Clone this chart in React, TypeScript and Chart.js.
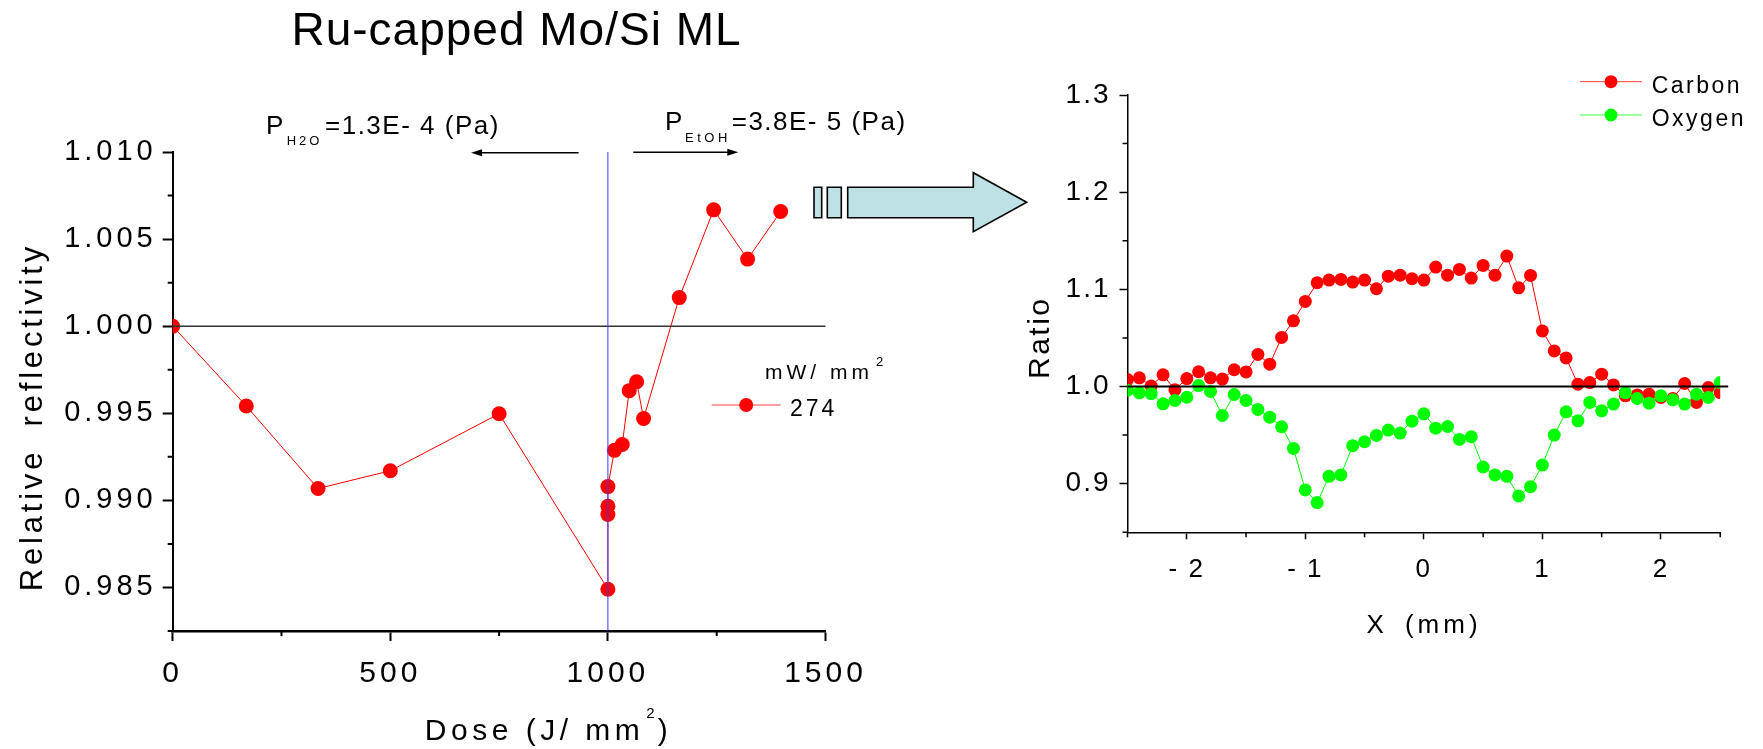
import React, { useEffect, useRef } from 'react';
import { Chart, registerables } from 'chart.js';

Chart.register(...registerables);

const FONT = "'Liberation Sans', Arial, Helvetica, sans-serif";

// ---------- Left panel: relative reflectivity vs dose ----------
const doseJmm2 = [0, 169, 334, 500, 750, 1000, 1000, 1000, 1000, 1015, 1033, 1049, 1066, 1082, 1164, 1243, 1321, 1397];
const relativeReflectivity = [1.0, 0.99542, 0.99068, 0.9917, 0.99497, 0.9849, 0.98919, 0.98966, 0.99079, 0.99287, 0.99321, 0.9963, 0.99681, 0.9947, 1.00164, 1.00668, 1.00385, 1.00658];
const doseTickValues = [0, 500, 1000, 1500];
const doseTickLabels = ['0', '500', '1000', '1500'];
const doseMinorTicks = [250, 750, 1250];
const reflTickValues = [0.985, 0.99, 0.995, 1.0, 1.005, 1.01];
const reflTickLabels = ['0.985', '0.990', '0.995', '1.000', '1.005', '1.010'];
const reflMinorTicks = [0.9825, 0.9875, 0.9925, 0.9975, 1.0025, 1.0075];
const switchDose = 1000;
const referenceLevel = 1.0;
const powerSeriesLabel = '274';

// ---------- Right panel: ratio vs position ----------
const positionMm = [-2.5, -2.4, -2.3, -2.2, -2.1, -2.0, -1.9, -1.8, -1.7, -1.6, -1.5, -1.4, -1.3, -1.2, -1.1, -1.0, -0.9, -0.8, -0.7, -0.6, -0.5, -0.4, -0.3, -0.2, -0.1, 0.0, 0.1, 0.2, 0.3, 0.4, 0.5, 0.6, 0.7, 0.8, 0.9, 1.0, 1.1, 1.2, 1.3, 1.4, 1.5, 1.6, 1.7, 1.8, 1.9, 2.0, 2.1, 2.2, 2.3, 2.4, 2.5];
const carbonRatio = [1.0072, 1.009, 1.0005, 1.012, 0.9968, 1.0082, 1.0152, 1.009, 1.0077, 1.0173, 1.015, 1.033, 1.023, 1.0505, 1.0676, 1.0876, 1.1068, 1.1095, 1.1102, 1.1075, 1.1095, 1.1006, 1.1136, 1.1146, 1.1109, 1.1095, 1.1229, 1.1146, 1.1205, 1.1116, 1.1246, 1.1146, 1.1342, 1.1016, 1.1143, 1.0572, 1.0366, 1.0294, 1.0024, 1.0041, 1.0127, 1.0017, 0.9904, 0.9914, 0.9921, 0.9887, 0.9877, 1.0031, 0.9836, 0.999, 0.9938];
const oxygenRatio = [0.9962, 0.9935, 0.9928, 0.9822, 0.9856, 0.989, 1.001, 0.9949, 0.9702, 0.9918, 0.9856, 0.9764, 0.9685, 0.9586, 0.9363, 0.8936, 0.8806, 0.9076, 0.909, 0.9391, 0.9432, 0.9497, 0.9552, 0.9521, 0.9644, 0.9719, 0.9572, 0.9589, 0.9456, 0.9483, 0.9172, 0.909, 0.9076, 0.8874, 0.897, 0.9192, 0.95, 0.974, 0.9647, 0.9836, 0.975, 0.9819, 0.9938, 0.9877, 0.9829, 0.9904, 0.9863, 0.9819, 0.9921, 0.9887, 1.0041];
const xMmTickValues = [-2, -1, 0, 1, 2];
const xMmTickLabels = ['- 2', '- 1', '0', '1', '2'];
const xMmMinorTicks = [-2.5, -1.5, -0.5, 0.5, 1.5, 2.5];
const ratioTickValues = [0.9, 1.0, 1.1, 1.2, 1.3];
const ratioTickLabels = ['0.9', '1.0', '1.1', '1.2', '1.3'];
const ratioMinorTicks = [0.85, 0.95, 1.05, 1.15, 1.25];

const RED = '#ff0000';
const GREEN = '#00ff00';

function spacedText(ctx: any, s: string, x: number, y: number, size: number, spacing = 0, align = 'left', wordSpacing = 0) {
  ctx.save();
  ctx.font = `${size}px ${FONT}`;
  ctx.letterSpacing = `${spacing}px`;
  ctx.wordSpacing = `${wordSpacing}px`;
  ctx.fillStyle = '#000';
  ctx.textBaseline = 'alphabetic';
  ctx.textAlign = 'left';
  const w = ctx.measureText(s).width - spacing;
  let sx = x;
  if (align === 'center') sx = x - w / 2;
  else if (align === 'right') sx = x - w;
  ctx.fillText(s, sx, y);
  ctx.restore();
  return w;
}

function rotatedText(ctx: any, s: string, x: number, y: number, size: number, spacing: number, wordSpacing = 0) {
  ctx.save();
  ctx.translate(x, y);
  ctx.rotate(-Math.PI / 2);
  spacedText(ctx, s, 0, 0, size, spacing, 'center', wordSpacing);
  ctx.restore();
}

function minorTicks(chart: any, axisId: string, values: number[], len: number, width: number) {
  const s = chart.scales[axisId];
  const a = chart.chartArea;
  const ctx = chart.ctx;
  ctx.save();
  ctx.strokeStyle = '#000';
  ctx.lineWidth = width;
  ctx.beginPath();
  for (const v of values) {
    const p = s.getPixelForValue(v);
    if (s.isHorizontal()) {
      ctx.moveTo(p, a.bottom);
      ctx.lineTo(p, a.bottom + len);
    } else {
      ctx.moveTo(a.left, p);
      ctx.lineTo(a.left - len, p);
    }
  }
  ctx.stroke();
  ctx.restore();
}

function arrowLine(ctx: any, x1: number, x2: number, y: number) {
  const dir = Math.sign(x2 - x1);
  ctx.save();
  ctx.strokeStyle = '#000';
  ctx.fillStyle = '#000';
  ctx.lineWidth = 1.6;
  ctx.beginPath();
  ctx.moveTo(x1, y);
  ctx.lineTo(x2 - dir * 8, y);
  ctx.stroke();
  ctx.beginPath();
  ctx.moveTo(x2, y);
  ctx.lineTo(x2 - dir * 11, y - 3.5);
  ctx.lineTo(x2 - dir * 11, y + 3.5);
  ctx.closePath();
  ctx.fill();
  ctx.restore();
}

function legendMarker(ctx: any, x1: number, x2: number, y: number, color: string, r: number) {
  ctx.save();
  ctx.strokeStyle = color;
  ctx.lineWidth = 1;
  ctx.globalAlpha = 0.75;
  ctx.beginPath();
  ctx.moveTo(x1, y);
  ctx.lineTo(x2, y);
  ctx.stroke();
  ctx.globalAlpha = 1;
  ctx.fillStyle = color;
  ctx.beginPath();
  ctx.arc((x1 + x2) / 2, y, r, 0, Math.PI * 2);
  ctx.fill();
  ctx.restore();
}

const leftDecor = {
  id: 'leftDecor',
  beforeDraw(chart: any) {
    chart.ctx.letterSpacing = '4px';
  },
  afterDatasetsDraw(chart: any) {
    const { ctx, chartArea: a, scales } = chart;
    const x = scales.x;
    const y = scales.y;
    ctx.save();
    ctx.strokeStyle = '#333';
    ctx.lineWidth = 1.5;
    const yr = y.getPixelForValue(referenceLevel);
    ctx.beginPath();
    ctx.moveTo(x.getPixelForValue(doseTickValues[0]), yr);
    ctx.lineTo(x.getPixelForValue(doseTickValues[doseTickValues.length - 1]), yr);
    ctx.stroke();
    const xb = x.getPixelForValue(switchDose);
    ctx.strokeStyle = '#3a3aff';
    ctx.lineWidth = 1;
    ctx.beginPath();
    ctx.moveTo(xb, a.top);
    ctx.lineTo(xb, a.bottom);
    ctx.stroke();
    ctx.restore();
  },
  afterDraw(chart: any) {
    const ctx = chart.ctx;
    ctx.letterSpacing = '0px';
    minorTicks(chart, 'x', doseMinorTicks, 5, 2);
    minorTicks(chart, 'y', reflMinorTicks, 5, 2);

    // Title
    spacedText(ctx, 'Ru-capped Mo/Si ML', 516, 45, 46, 1, 'center');

    // Pressure annotations
    spacedText(ctx, 'P', 266, 134.3, 26, 1.5);
    spacedText(ctx, 'H2O', 286.7, 145, 13, 3);
    spacedText(ctx, '=1.3E- 4 (Pa)', 325, 134.3, 26, 1.5);
    arrowLine(ctx, 578.6, 471, 152.7);

    spacedText(ctx, 'P', 665, 130, 26, 1.5);
    spacedText(ctx, 'EtOH', 685, 141.7, 13, 3.5);
    spacedText(ctx, '=3.8E- 5 (Pa)', 731.7, 130, 26, 1.5);
    arrowLine(ctx, 633.3, 738.3, 152.3);

    // Axis titles
    rotatedText(ctx, 'Relative reflectivity', 42, 419, 31, 3.8, 10);
    let cx = 424.8;
    cx += spacedText(ctx, 'Dose (J/ mm', cx, 740, 30, 4.5) + 4.5;
    cx += spacedText(ctx, '2', cx + 2, 718, 15, 0) + 5;
    spacedText(ctx, ')', cx, 740, 30, 0);

    // Legend
    spacedText(ctx, 'mW/ mm', 765, 379, 21, 4);
    spacedText(ctx, '2', 876, 366, 13, 0);
    legendMarker(ctx, 711.7, 780.7, 405, RED, 7);
    spacedText(ctx, chart.data.datasets[0].label, 790, 416, 23, 3);

    // Big arrow
    ctx.save();
    ctx.fillStyle = '#bde1e4';
    ctx.strokeStyle = '#000';
    ctx.lineWidth = 1.6;
    ctx.beginPath();
    ctx.rect(814, 187.3, 7.7, 30.4);
    ctx.rect(827.3, 187.3, 14, 30.4);
    ctx.fill();
    ctx.stroke();
    ctx.beginPath();
    ctx.moveTo(847.7, 187.3);
    ctx.lineTo(973.3, 187.3);
    ctx.lineTo(973.3, 172.7);
    ctx.lineTo(1026.7, 202.3);
    ctx.lineTo(973.3, 231.7);
    ctx.lineTo(973.3, 217.7);
    ctx.lineTo(847.7, 217.7);
    ctx.closePath();
    ctx.fill();
    ctx.stroke();
    ctx.restore();
  },
};

const rightDecor = {
  id: 'rightDecor',
  beforeDraw(chart: any) {
    chart.ctx.letterSpacing = '2px';
  },
  afterDatasetsDraw(chart: any) {
    const { ctx, chartArea: a, scales } = chart;
    const yr = scales.y.getPixelForValue(referenceLevel);
    ctx.save();
    ctx.strokeStyle = '#000';
    ctx.lineWidth = 2;
    ctx.beginPath();
    ctx.moveTo(a.left, yr);
    ctx.lineTo(a.right + 8, yr);
    ctx.stroke();
    ctx.restore();
  },
  afterDraw(chart: any) {
    const ctx = chart.ctx;
    ctx.letterSpacing = '0px';
    minorTicks(chart, 'x', xMmMinorTicks, 5, 1.5);
    minorTicks(chart, 'y', ratioMinorTicks, 5, 1.5);
    rotatedText(ctx, 'Ratio', 48.7, 339, 30, 2.5);
    spacedText(ctx, 'X (mm)', 422, 633.3, 26, 4, 'center', 6);
    const ds = chart.data.datasets;
    legendMarker(ctx, 580, 642, 81.7, RED, 6.5);
    spacedText(ctx, ds[1].label, 651.7, 92.7, 23, 2.5);
    legendMarker(ctx, 580, 642, 115, GREEN, 6.5);
    spacedText(ctx, ds[0].label, 651.7, 125.7, 23, 2.5);
  },
};

function leftConfig(): any {
  return {
    type: 'scatter',
    data: {
      datasets: [
        {
          label: powerSeriesLabel,
          data: doseJmm2.map((d, i) => ({ x: d, y: relativeReflectivity[i] })),
          showLine: true,
          borderColor: RED,
          borderWidth: 1,
          backgroundColor: RED,
          pointBackgroundColor: RED,
          pointBorderWidth: 0,
          pointRadius: 7.5,
          clip: 0,
        },
      ],
    },
    options: {
      animation: false,
      responsive: false,
      devicePixelRatio: 1,
      layout: { padding: { left: 0, top: 152, right: 1040 - 825.5, bottom: 0 } },
      plugins: { legend: { display: false }, tooltip: { enabled: false }, title: { display: false } },
      scales: {
        x: {
          type: 'linear',
          min: 0,
          max: 1500,
          afterBuildTicks: (s: any) => { s.ticks = doseTickValues.map((v) => ({ value: v })); },
          afterFit: (s: any) => { s.height = 749 - 631; },
          grid: { display: true, drawOnChartArea: false, drawTicks: true, tickLength: 10, tickWidth: 2, tickColor: '#000' },
          border: { display: true, color: '#000', width: 2.5 },
          ticks: {
            font: { family: FONT, size: 30 },
            color: '#000',
            padding: 15,
            maxRotation: 0,
            autoSkip: false,
            callback: (_v: any, i: number) => doseTickLabels[i],
          },
        },
        y: {
          type: 'linear',
          min: 0.9825,
          max: 1.01,
          afterBuildTicks: (s: any) => { s.ticks = reflTickValues.map((v) => ({ value: v })); },
          afterFit: (s: any) => { s.width = 172.7; },
          grid: { display: true, drawOnChartArea: false, drawTicks: true, tickLength: 10, tickWidth: 2, tickColor: '#000' },
          border: { display: true, color: '#000', width: 2 },
          ticks: {
            font: { family: FONT, size: 29 },
            color: '#000',
            padding: 6,
            autoSkip: false,
            callback: (_v: any, i: number) => reflTickLabels[i],
          },
        },
      },
    },
    plugins: [leftDecor],
  };
}

function rightConfig(): any {
  return {
    type: 'scatter',
    data: {
      datasets: [
        {
          label: 'Oxygen',
          data: positionMm.map((x, i) => ({ x, y: oxygenRatio[i] })),
          showLine: true,
          borderColor: GREEN,
          borderWidth: 1,
          backgroundColor: GREEN,
          pointBackgroundColor: GREEN,
          pointBorderWidth: 0,
          pointRadius: 6.5,
          clip: 0,
          order: 0,
        },
        {
          label: 'Carbon',
          data: positionMm.map((x, i) => ({ x, y: carbonRatio[i] })),
          showLine: true,
          borderColor: RED,
          borderWidth: 1,
          backgroundColor: RED,
          pointBackgroundColor: RED,
          pointBorderWidth: 0,
          pointRadius: 6.5,
          clip: 0,
          order: 1,
        },
      ],
    },
    options: {
      animation: false,
      responsive: false,
      devicePixelRatio: 1,
      layout: { padding: { left: 0, top: 95, right: 763 - 720.2, bottom: 0 } },
      plugins: { legend: { display: false }, tooltip: { enabled: false }, title: { display: false } },
      scales: {
        x: {
          type: 'linear',
          min: -2.5,
          max: 2.5,
          afterBuildTicks: (s: any) => { s.ticks = xMmTickValues.map((v) => ({ value: v })); },
          afterFit: (s: any) => { s.height = 749 - 532.3; },
          grid: { display: true, drawOnChartArea: false, drawTicks: true, tickLength: 7, tickWidth: 1.5, tickColor: '#000' },
          border: { display: true, color: '#000', width: 1.5 },
          ticks: {
            font: { family: FONT, size: 26 },
            color: '#000',
            padding: 15,
            maxRotation: 0,
            autoSkip: false,
            callback: (_v: any, i: number) => xMmTickLabels[i],
          },
        },
        y: {
          type: 'linear',
          min: 0.85,
          max: 1.3,
          afterBuildTicks: (s: any) => { s.ticks = ratioTickValues.map((v) => ({ value: v })); },
          afterFit: (s: any) => { s.width = 127.5; },
          grid: { display: true, drawOnChartArea: false, drawTicks: true, tickLength: 8, tickWidth: 1.5, tickColor: '#000' },
          border: { display: true, color: '#000', width: 1.5 },
          ticks: {
            font: { family: FONT, size: 28 },
            color: '#000',
            padding: 9,
            autoSkip: false,
            callback: (_v: any, i: number) => ratioTickLabels[i],
          },
        },
      },
    },
    plugins: [rightDecor],
  };
}

export default function App() {
  const leftRef = useRef<HTMLCanvasElement>(null);
  const rightRef = useRef<HTMLCanvasElement>(null);
  useEffect(() => {
    const left = new Chart(leftRef.current as HTMLCanvasElement, leftConfig());
    const right = new Chart(rightRef.current as HTMLCanvasElement, rightConfig());
    return () => {
      left.destroy();
      right.destroy();
    };
  }, []);
  return (
    <div style={{ position: 'fixed', left: 0, top: 0, width: 1763, height: 749, background: '#fff', overflow: 'hidden' }}>
      <canvas ref={leftRef} width={1040} height={749} style={{ position: 'absolute', left: 0, top: 0, width: 1040, height: 749 }} />
      <canvas ref={rightRef} width={763} height={749} style={{ position: 'absolute', left: 1000, top: 0, width: 763, height: 749 }} />
    </div>
  );
}
